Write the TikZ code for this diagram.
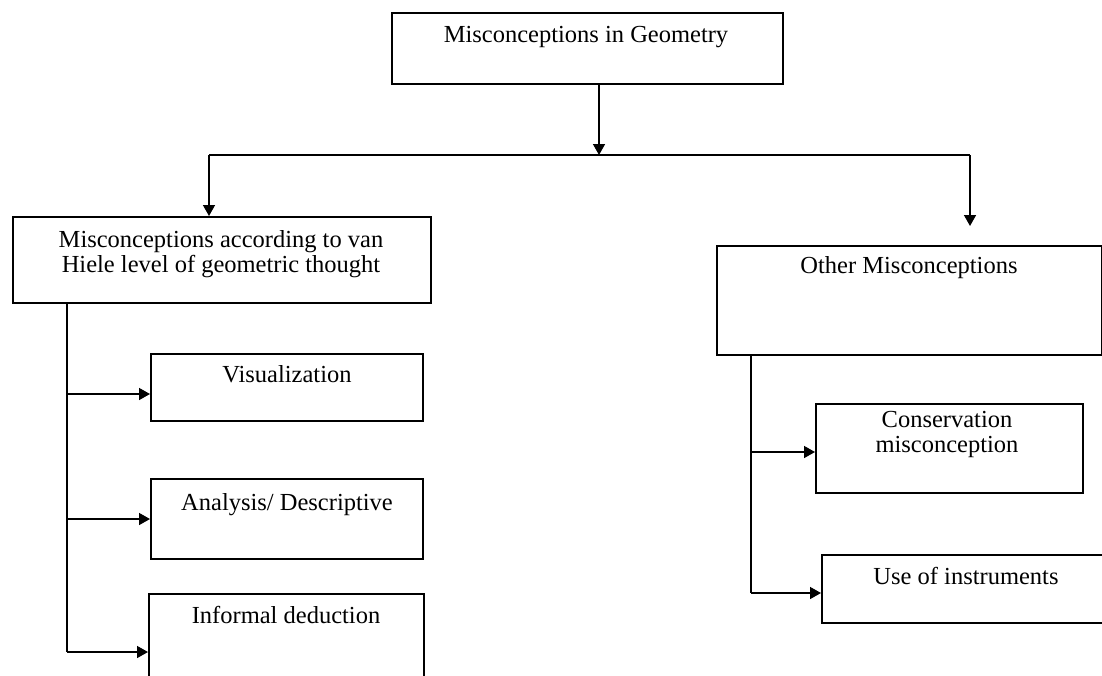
\documentclass[tikz,border=0pt]{standalone}
\usepackage{fontspec}
\setmainfont{Liberation Serif}
\usetikzlibrary{arrows.meta}
\tikzset{
  box/.style={draw, line width=1.5pt, rectangle, inner sep=0pt, anchor=north west},
  lbl/.style={anchor=base, inner sep=0pt, font=\fontsize{24.5}{28}\selectfont},
  conn/.style={line width=1.5pt},
  arr/.style={line width=1.5pt, -{Triangle[length=11pt,width=12pt]}}
}
\begin{document}
\begin{tikzpicture}[x=1pt,y=-1pt]
\clip (0,0) rectangle (1102,675);
\fill[white] (0,0) rectangle (1102,675);
% boxes
\node[box, minimum width=391pt, minimum height=71pt] (top) at (391,12) {};
\node[box, minimum width=418pt, minimum height=86pt] (lvh) at (12,216) {};
\node[box, minimum width=385pt, minimum height=109pt] (other) at (716,245) {};
\node[box, minimum width=272pt, minimum height=67pt] (vis) at (150,353) {};
\node[box, minimum width=272pt, minimum height=80pt] (ana) at (150,478) {};
\node[box, minimum width=275pt, minimum height=100pt] (inf) at (148,593) {};
\node[box, minimum width=267pt, minimum height=89pt] (cons) at (815,403) {};
\node[box, minimum width=300pt, minimum height=68pt] (use) at (821,554) {};
% texts
\node[lbl] (ttop) at (586,42) {Misconceptions in Geometry};
\node[lbl] (tlvh1) at (221,247) {Misconceptions according to van};
\node[lbl] (tlvh2) at (221,272) {Hiele level of geometric thought};
\node[lbl] (tother) at (909,273) {Other Misconceptions};
\node[lbl] (tvis) at (287,382) {Visualization};
\node[lbl] (tana) at (287,510) {Analysis/ Descriptive};
\node[lbl] (tinf) at (286,623) {Informal deduction};
\node[lbl] (tcons1) at (947,427) {Conservation};
\node[lbl] (tcons2) at (947,452) {misconception};
\node[lbl] (tuse) at (966,584) {Use of instruments};
% connector coordinates
\coordinate (hub) at (599,155);
\coordinate (bl) at (209,155);
\coordinate (br) at (970,155);
\coordinate (rt) at (970,226);
\coordinate (ls) at (67,302);
\coordinate (l1) at (67,394);
\coordinate (l2) at (67,519);
\coordinate (l3) at (67,652);
\coordinate (rs) at (751,354);
\coordinate (r1) at (751,452);
\coordinate (r2) at (751,593);
% connectors
\draw[arr] (top.south -| hub) -- (hub);
\draw[conn] (bl) -- (br);
\draw[arr] (bl) -- (bl |- lvh.north);
\draw[arr] (br) -- (rt);
\draw[conn] (ls |- lvh.south) -- (l3);
\draw[arr] (l1) -- (l1 -| vis.west);
\draw[arr] (l2) -- (l2 -| ana.west);
\draw[arr] (l3) -- (l3 -| inf.west);
\draw[conn] (rs |- other.south) -- (r2);
\draw[arr] (r1) -- (r1 -| cons.west);
\draw[arr] (r2) -- (r2 -| use.west);
\end{tikzpicture}
\end{document}
